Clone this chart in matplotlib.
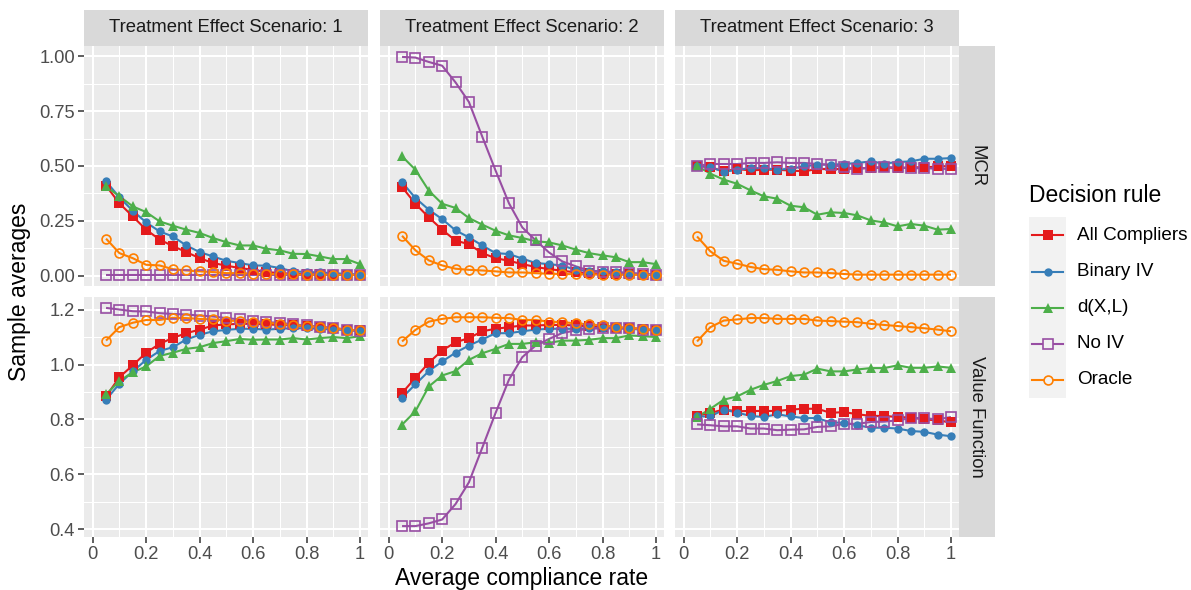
import matplotlib
matplotlib.use("Agg")
import matplotlib.pyplot as plt
from matplotlib.lines import Line2D
from matplotlib.patches import Rectangle

plt.rcParams['font.family'] = ['Liberation Sans', 'DejaVu Sans']

# ---------------------------------------------------------------- data
compliance = [0.05, 0.10, 0.15, 0.20, 0.25, 0.30, 0.35, 0.40, 0.45, 0.50,
              0.55, 0.60, 0.65, 0.70, 0.75, 0.80, 0.85, 0.90, 0.95, 1.00]

rules = ["All Compliers", "Binary IV", "d(X,L)", "No IV", "Oracle"]
scenarios = ["1", "2", "3"]
metrics = ["MCR", "Value Function"]

# Misclassification rate, scenario 1
mcr_s1_all = [0.41, 0.33, 0.27, 0.21, 0.165, 0.135, 0.108, 0.08, 0.058, 0.046,
              0.035, 0.027, 0.017, 0.012, 0.009, 0.008, 0.006, 0.005, 0.005, 0.005]
mcr_s1_biv = [0.43, 0.357, 0.296, 0.243, 0.202, 0.179, 0.138, 0.108, 0.088, 0.068,
              0.058, 0.047, 0.046, 0.035, 0.02, 0.017, 0.015, 0.012, 0.008, 0.005]
mcr_s1_dxl = [0.407, 0.362, 0.316, 0.29, 0.248, 0.228, 0.21, 0.195, 0.172, 0.153,
              0.138, 0.138, 0.123, 0.116, 0.1, 0.099, 0.088, 0.076, 0.076, 0.053]
mcr_s1_noiv = [0.003, 0.003, 0.003, 0.003, 0.003, 0.003, 0.003, 0.003, 0.003, 0.003,
               0.003, 0.003, 0.003, 0.003, 0.003, 0.003, 0.003, 0.003, 0.003, 0.003]
mcr_s1_orc = [0.169, 0.103, 0.08, 0.05, 0.047, 0.03, 0.024, 0.02, 0.017, 0.012,
              0.012, 0.01, 0.008, 0.008, 0.006, 0.005, 0.005, 0.004, 0.004, 0.003]

# Misclassification rate, scenario 2
mcr_s2_all = [0.404, 0.328, 0.266, 0.21, 0.16, 0.144, 0.103, 0.08, 0.068, 0.053,
              0.04, 0.03, 0.023, 0.015, 0.012, 0.009, 0.007, 0.006, 0.005, 0.005]
mcr_s2_biv = [0.426, 0.354, 0.301, 0.258, 0.207, 0.175, 0.138, 0.103, 0.099, 0.078,
              0.058, 0.053, 0.046, 0.027, 0.022, 0.02, 0.017, 0.012, 0.008, 0.005]
mcr_s2_dxl = [0.544, 0.483, 0.388, 0.328, 0.309, 0.263, 0.233, 0.205, 0.184, 0.172,
              0.157, 0.152, 0.138, 0.119, 0.103, 0.093, 0.084, 0.062, 0.062, 0.053]
mcr_s2_noiv = [0.997, 0.994, 0.974, 0.957, 0.881, 0.792, 0.634, 0.479, 0.33, 0.22,
               0.161, 0.106, 0.065, 0.043, 0.023, 0.017, 0.015, 0.012, 0.008, 0.005]
mcr_s2_orc = [0.182, 0.116, 0.07, 0.047, 0.032, 0.027, 0.024, 0.02, 0.015, 0.015,
              0.012, 0.009, 0.008, 0.007, 0.006, 0.005, 0.005, 0.005, 0.004, 0.004]

# Misclassification rate, scenario 3
mcr_s3_all = [0.50, 0.494, 0.476, 0.486, 0.48, 0.483, 0.483, 0.479, 0.476, 0.486,
              0.486, 0.486, 0.49, 0.49, 0.494, 0.49, 0.494, 0.494, 0.498, 0.50]
mcr_s3_biv = [0.502, 0.495, 0.473, 0.483, 0.49, 0.49, 0.483, 0.488, 0.498, 0.506,
              0.506, 0.509, 0.514, 0.521, 0.511, 0.518, 0.521, 0.533, 0.533, 0.536]
mcr_s3_dxl = [0.50, 0.465, 0.438, 0.419, 0.389, 0.362, 0.351, 0.319, 0.312, 0.278,
              0.289, 0.286, 0.275, 0.252, 0.243, 0.225, 0.236, 0.228, 0.21, 0.213]
mcr_s3_noiv = [0.50, 0.509, 0.509, 0.509, 0.514, 0.514, 0.517, 0.514, 0.514, 0.509,
               0.506, 0.495, 0.486, 0.494, 0.494, 0.494, 0.49, 0.49, 0.488, 0.486]
mcr_s3_orc = [0.179, 0.111, 0.068, 0.055, 0.04, 0.03, 0.027, 0.02, 0.015, 0.015,
              0.012, 0.008, 0.005, 0.005, 0.005, 0.005, 0.005, 0.005, 0.005, 0.005]

# Value function, scenario 1
vf_s1_all = [0.884, 0.954, 0.997, 1.043, 1.075, 1.097, 1.114, 1.127, 1.142, 1.146,
             1.148, 1.148, 1.146, 1.144, 1.142, 1.14, 1.136, 1.132, 1.127, 1.124]
vf_s1_biv = [0.872, 0.93, 0.975, 1.017, 1.049, 1.063, 1.091, 1.108, 1.121, 1.126,
             1.13, 1.13, 1.127, 1.13, 1.132, 1.132, 1.13, 1.127, 1.126, 1.121]
vf_s1_dxl = [0.891, 0.94, 0.972, 0.993, 1.031, 1.043, 1.057, 1.063, 1.078, 1.085,
             1.093, 1.09, 1.091, 1.091, 1.096, 1.091, 1.096, 1.1, 1.096, 1.103]
vf_s1_noiv = [1.206, 1.2, 1.194, 1.193, 1.187, 1.184, 1.182, 1.178, 1.175, 1.169,
              1.164, 1.158, 1.154, 1.152, 1.146, 1.142, 1.138, 1.133, 1.127, 1.121]
vf_s1_orc = [1.087, 1.136, 1.152, 1.162, 1.162, 1.17, 1.169, 1.166, 1.164, 1.16,
             1.158, 1.154, 1.152, 1.148, 1.144, 1.14, 1.136, 1.132, 1.127, 1.124]

# Value function, scenario 2
vf_s2_all = [0.896, 0.952, 1.006, 1.051, 1.081, 1.096, 1.121, 1.13, 1.136, 1.142,
             1.142, 1.144, 1.144, 1.142, 1.139, 1.138, 1.133, 1.132, 1.13, 1.124]
vf_s2_biv = [0.879, 0.928, 0.976, 1.011, 1.043, 1.069, 1.091, 1.114, 1.114, 1.121,
             1.127, 1.13, 1.13, 1.13, 1.132, 1.132, 1.132, 1.13, 1.127, 1.124]
vf_s2_dxl = [0.781, 0.83, 0.92, 0.96, 0.976, 1.017, 1.041, 1.057, 1.075, 1.075,
             1.081, 1.079, 1.087, 1.087, 1.09, 1.096, 1.096, 1.106, 1.103, 1.1]
vf_s2_noiv = [0.412, 0.412, 0.422, 0.436, 0.492, 0.571, 0.697, 0.824, 0.945, 1.027,
              1.069, 1.093, 1.115, 1.124, 1.13, 1.133, 1.132, 1.132, 1.127, 1.124]
vf_s2_orc = [1.084, 1.126, 1.156, 1.166, 1.172, 1.172, 1.172, 1.17, 1.169, 1.162,
             1.162, 1.156, 1.154, 1.15, 1.146, 1.142, 1.138, 1.133, 1.13, 1.124]

# Value function, scenario 3
vf_s3_all = [0.813, 0.824, 0.836, 0.83, 0.831, 0.831, 0.831, 0.836, 0.839, 0.839,
             0.824, 0.827, 0.819, 0.813, 0.813, 0.809, 0.807, 0.8, 0.797, 0.789]
vf_s3_biv = [0.811, 0.811, 0.836, 0.825, 0.813, 0.809, 0.819, 0.811, 0.805, 0.805,
             0.789, 0.788, 0.779, 0.77, 0.77, 0.767, 0.758, 0.755, 0.745, 0.739]
vf_s3_dxl = [0.809, 0.839, 0.872, 0.884, 0.908, 0.926, 0.94, 0.958, 0.963, 0.985,
             0.975, 0.975, 0.982, 0.987, 0.987, 0.997, 0.988, 0.988, 0.993, 0.988]
vf_s3_noiv = [0.782, 0.779, 0.775, 0.775, 0.767, 0.767, 0.761, 0.763, 0.764, 0.773,
              0.775, 0.784, 0.784, 0.791, 0.792, 0.797, 0.805, 0.805, 0.8, 0.809]
vf_s3_orc = [1.084, 1.136, 1.16, 1.164, 1.169, 1.169, 1.166, 1.166, 1.166, 1.16,
             1.158, 1.156, 1.154, 1.148, 1.144, 1.14, 1.136, 1.132, 1.127, 1.121]

x_ticks = [0, 0.2, 0.4, 0.6, 0.8, 1.0]
x_tick_labels = ["0", "0.2", "0.4", "0.6", "0.8", "1"]
mcr_ticks = [0.0, 0.25, 0.5, 0.75, 1.0]
mcr_tick_labels = ["0.00", "0.25", "0.50", "0.75", "1.00"]
vf_ticks = [0.4, 0.6, 0.8, 1.0, 1.2]
vf_tick_labels = ["0.4", "0.6", "0.8", "1.0", "1.2"]

panels = {
    ("MCR", "1"): [mcr_s1_all, mcr_s1_biv, mcr_s1_dxl, mcr_s1_noiv, mcr_s1_orc],
    ("MCR", "2"): [mcr_s2_all, mcr_s2_biv, mcr_s2_dxl, mcr_s2_noiv, mcr_s2_orc],
    ("MCR", "3"): [mcr_s3_all, mcr_s3_biv, mcr_s3_dxl, mcr_s3_noiv, mcr_s3_orc],
    ("Value Function", "1"): [vf_s1_all, vf_s1_biv, vf_s1_dxl, vf_s1_noiv, vf_s1_orc],
    ("Value Function", "2"): [vf_s2_all, vf_s2_biv, vf_s2_dxl, vf_s2_noiv, vf_s2_orc],
    ("Value Function", "3"): [vf_s3_all, vf_s3_biv, vf_s3_dxl, vf_s3_noiv, vf_s3_orc],
}

# ---------------------------------------------------------------- style
colors = ["#E41A1C", "#377EB8", "#4DAF4A", "#984EA3", "#FF7F00"]
markers = ["s", "o", "^", "s", "o"]
filled = [True, True, True, False, False]
msizes = [6.8, 6.0, 7.0, 6.8, 6.4]

W, H = 1191, 590
fig = plt.figure(figsize=(W / 100, H / 100), dpi=100)


def rect(l, t, r, b):
    return [l / W, 1 - b / H, (r - l) / W, (b - t) / H]


cols = [(84, 368), (380, 664), (675, 959)]
rows = [(46, 286), (297, 537)]
strip_top = 10
strip_right = 995

tick_color = "#4D4D4D"
text_color = "#1A1A1A"
fs_tick = 13.2
fs_strip = 13.3
fs_legend = 13.6
fs_title = 16.5


def padded_limits(series_lists):
    vals = [v for s in series_lists for v in s]
    lo, hi = min(vals), max(vals)
    pad = 0.05 * (hi - lo)
    return lo - pad, hi + pad


row_limits = {m: padded_limits([s for sc in scenarios for s in panels[(m, sc)]])
              for m in metrics}
x_lo, x_hi = -0.0325, 1.03

for ri, metric in enumerate(metrics):
    t, b = rows[ri]
    for ci, sc in enumerate(scenarios):
        l, r = cols[ci]
        ax = fig.add_axes(rect(l, t, r, b))
        ax.set_facecolor("#EBEBEB")
        for sp in ax.spines.values():
            sp.set_visible(False)
        ax.set_xlim(x_lo, x_hi)
        ax.set_ylim(*row_limits[metric])

        yt = mcr_ticks if metric == "MCR" else vf_ticks
        ytl = mcr_tick_labels if metric == "MCR" else vf_tick_labels
        ax.set_xticks(x_ticks)
        ax.set_yticks(yt)
        minor_x = [(a + c) / 2 for a, c in zip(x_ticks[:-1], x_ticks[1:])]
        minor_y = [(a + c) / 2 for a, c in zip(yt[:-1], yt[1:])]
        ax.set_xticks(minor_x, minor=True)
        ax.set_yticks(minor_y, minor=True)
        ax.grid(which="major", color="white", linewidth=1.5)
        ax.grid(which="minor", color="white", linewidth=0.75)
        ax.set_axisbelow(True)
        ax.tick_params(which="minor", length=0)
        ax.tick_params(which="major", length=4, width=1.1, color="#333333",
                       labelsize=fs_tick, labelcolor=tick_color, pad=2.5)

        if ci == 0:
            ax.set_yticklabels(ytl)
        else:
            ax.tick_params(axis="y", which="major", length=0, labelleft=False)
        if ri == 1:
            ax.set_xticklabels(x_tick_labels)
        else:
            ax.tick_params(axis="x", which="major", length=0, labelbottom=False)

        series = panels[(metric, sc)]
        for k, ys in enumerate(series):
            ax.plot(compliance, ys, color=colors[k], linewidth=1.5, zorder=2,
                    solid_capstyle="butt")
        for k, ys in enumerate(series):
            if filled[k]:
                ax.plot(compliance, ys, linestyle="none", marker=markers[k],
                        markersize=msizes[k], color=colors[k],
                        markeredgewidth=0, zorder=3)
            else:
                ax.plot(compliance, ys, linestyle="none", marker=markers[k],
                        markersize=msizes[k], markerfacecolor="none",
                        markeredgecolor=colors[k], markeredgewidth=1.2, zorder=3)

        # column strip
        if ri == 0:
            sax = fig.add_axes(rect(l, strip_top, r, t))
            sax.set_facecolor("#D9D9D9")
            sax.set_xticks([])
            sax.set_yticks([])
            for sp in sax.spines.values():
                sp.set_visible(False)
            sax.text(0.5, 0.5, "Treatment Effect Scenario: " + sc,
                     ha="center", va="center", fontsize=fs_strip,
                     color=text_color, transform=sax.transAxes)

    # row strip
    rax = fig.add_axes(rect(cols[-1][1], t, strip_right, b))
    rax.set_facecolor("#D9D9D9")
    rax.set_xticks([])
    rax.set_yticks([])
    for sp in rax.spines.values():
        sp.set_visible(False)
    rax.text(0.5, 0.5, metric, ha="center", va="center", rotation=-90,
             fontsize=fs_strip, color=text_color, transform=rax.transAxes)

# axis titles
fig.text((cols[0][0] + cols[-1][1]) / 2 / W, 1 - 578 / H, "Average compliance rate",
         ha="center", va="center", fontsize=fs_title, color="black")
fig.text(20 / W, 1 - (rows[0][0] + rows[-1][1]) / 2 / H, "Sample averages",
         ha="center", va="center", rotation=90, fontsize=fs_title, color="black")

# legend
leg_l, leg_r = 1029, 1066
key_centers = [235, 271.5, 307.5, 343.5, 380]
key_h = 36.2
fig.text(leg_l / W, 1 - 196 / H, "Decision rule", ha="left", va="center",
         fontsize=fs_title, color="black")
fig.patches.append(Rectangle((leg_l / W, 1 - (key_centers[-1] + key_h / 2) / H),
                             (leg_r - leg_l) / W,
                             (key_centers[-1] - key_centers[0] + key_h) / H,
                             transform=fig.transFigure, facecolor="#F2F2F2",
                             edgecolor="none", zorder=0))
for k, name in enumerate(rules):
    yc = 1 - key_centers[k] / H
    fig.lines.append(Line2D([(leg_l + 3) / W, (leg_r - 3) / W], [yc, yc],
                            transform=fig.transFigure, color=colors[k],
                            linewidth=1.5, zorder=2))
    mx = (leg_l + leg_r) / 2 / W
    if filled[k]:
        fig.lines.append(Line2D([mx], [yc], transform=fig.transFigure,
                                marker=markers[k], markersize=msizes[k],
                                color=colors[k], markeredgewidth=0,
                                linestyle="none", zorder=3))
    else:
        fig.lines.append(Line2D([mx], [yc], transform=fig.transFigure,
                                marker=markers[k], markersize=msizes[k],
                                markerfacecolor="#F2F2F2", markeredgecolor=colors[k],
                                markeredgewidth=1.2, linestyle="none", zorder=3))
    fig.text(1077 / W, yc, name, ha="left", va="center", fontsize=fs_legend,
             color="black")

fig.savefig("out.png", dpi=100, facecolor="white")
